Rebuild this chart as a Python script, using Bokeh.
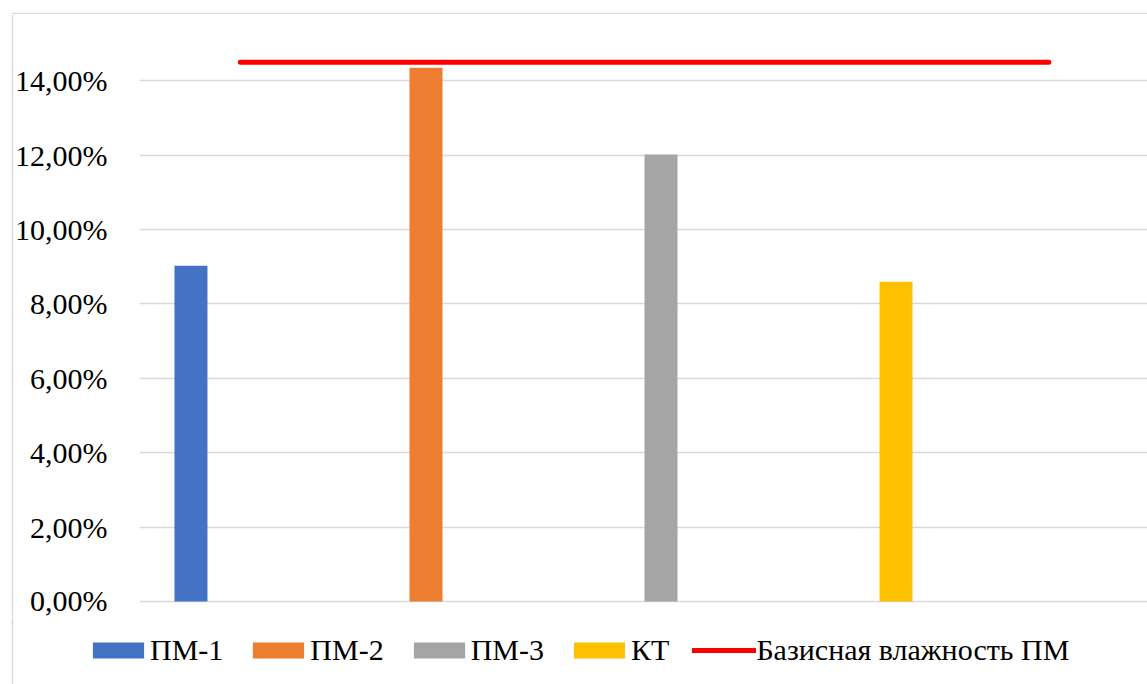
from bokeh.plotting import figure
from bokeh.layouts import column
from bokeh.models import (Range1d, FixedTicker, CustomJSTickFormatter, Legend,
                          LegendItem, LinearAxis)
from bokeh.embed import file_html
from bokeh.resources import INLINE

# ---- data ----
series = ["ПМ-1", "ПМ-2", "ПМ-3", "КТ"]
values = [0.0903, 0.1435, 0.1202, 0.0860]
positions = [0, 1, 2, 3]
colors = ["#4472C4", "#ED7D31", "#A5A5A5", "#FFC000"]
base_name = "Базисная влажность ПМ"
base_value = 0.145
base_x = [0.21, 3.65]
y_ticks = [0.0, 0.02, 0.04, 0.06, 0.08, 0.10, 0.12, 0.14]

FONT = "Times New Roman"
BORDER = "#D9D9D9"
EDGE_LEFT = 12


def border_axis():
    return LinearAxis(ticker=FixedTicker(ticks=[]), axis_line_color=BORDER,
                      axis_line_width=1.5, major_tick_out=0, major_tick_in=0,
                      minor_tick_out=0, minor_tick_in=0)


def plain(fig):
    fig.frame_align = False
    fig.outline_line_color = None
    fig.background_fill_color = "white"
    fig.border_fill_color = "white"
    return fig


# ---------------- top edge of the chart area ----------------
top = plain(figure(width=1147, height=14, output_backend="svg",
                   toolbar_location=None, x_range=Range1d(0, 1),
                   y_range=Range1d(0, 1), x_axis_type=None, y_axis_type=None,
                   min_border_left=EDGE_LEFT, min_border_right=0,
                   min_border_top=0, min_border_bottom=1))
top.grid.visible = False
top.add_layout(border_axis(), "below")

# ---------------- chart ----------------
p = plain(figure(width=1147, height=602, output_backend="svg",
                 toolbar_location=None,
                 x_range=Range1d(-0.219, 4.070),
                 y_range=Range1d(-0.004034, 0.157849),
                 x_axis_type=None,
                 min_border_left=139, min_border_right=0, min_border_top=0,
                 min_border_bottom=0))

ax = p.yaxis[0]
ax.ticker = FixedTicker(ticks=y_ticks)
ax.formatter = CustomJSTickFormatter(
    code="return (tick*100).toFixed(2).replace('.', ',') + '%';")
ax.axis_line_color = None
ax.major_tick_line_color = None
ax.major_tick_out = 15
ax.major_tick_in = 0
ax.minor_tick_line_color = None
ax.major_label_standoff = 17
ax.major_label_text_font = FONT
ax.major_label_text_font_size = "30px"
ax.major_label_text_color = "#000000"

p.add_layout(border_axis(), "left")

p.xgrid.visible = False
p.ygrid.ticker = FixedTicker(ticks=y_ticks)
p.ygrid.grid_line_color = "#D9D9D9"
p.ygrid.grid_line_width = 1.3

for pos, val, col in zip(positions, values, colors):
    p.vbar(x=[pos], top=[val], bottom=0, width=0.1404,
           fill_color=col, line_color=None)

p.line(x=base_x, y=[base_value, base_value], line_color="#FF0000",
       line_width=5, line_cap="round")

# ---------------- legend strip ----------------
lg = plain(figure(width=1147, height=68, output_backend="svg",
                  toolbar_location=None,
                  x_range=Range1d(0, 1), y_range=Range1d(0, 1),
                  x_axis_type=None, y_axis_type=None,
                  min_border_left=EDGE_LEFT, min_border_right=0,
                  min_border_top=0, min_border_bottom=0))
lg.grid.visible = False
lg.add_layout(border_axis(), "left")

# legend-only renderers, placed outside the visible range
items = []
for name, col in zip(series, colors):
    r = lg.vbar(x=[5], top=[1], width=0.1, fill_color=col, line_color=None)
    items.append(LegendItem(label=name, renderers=[r]))
rl = lg.line(x=[5, 6], y=[0.5, 0.5], line_color="#FF0000", line_width=5,
             line_cap="round")
items.append(LegendItem(label=base_name, renderers=[rl]))

legend = Legend(items=items, orientation="horizontal", location="left",
                glyph_width=64, glyph_height=20, label_standoff=0, spacing=23,
                padding=0, margin=86 - EDGE_LEFT, border_line_color=None,
                background_fill_alpha=0,
                label_text_font=FONT, label_text_font_size="30px",
                label_text_color="#000000")
lg.add_layout(legend)

layout = column(top, p, lg, spacing=0)
open("out.html", "w").write(file_html(layout, INLINE))
